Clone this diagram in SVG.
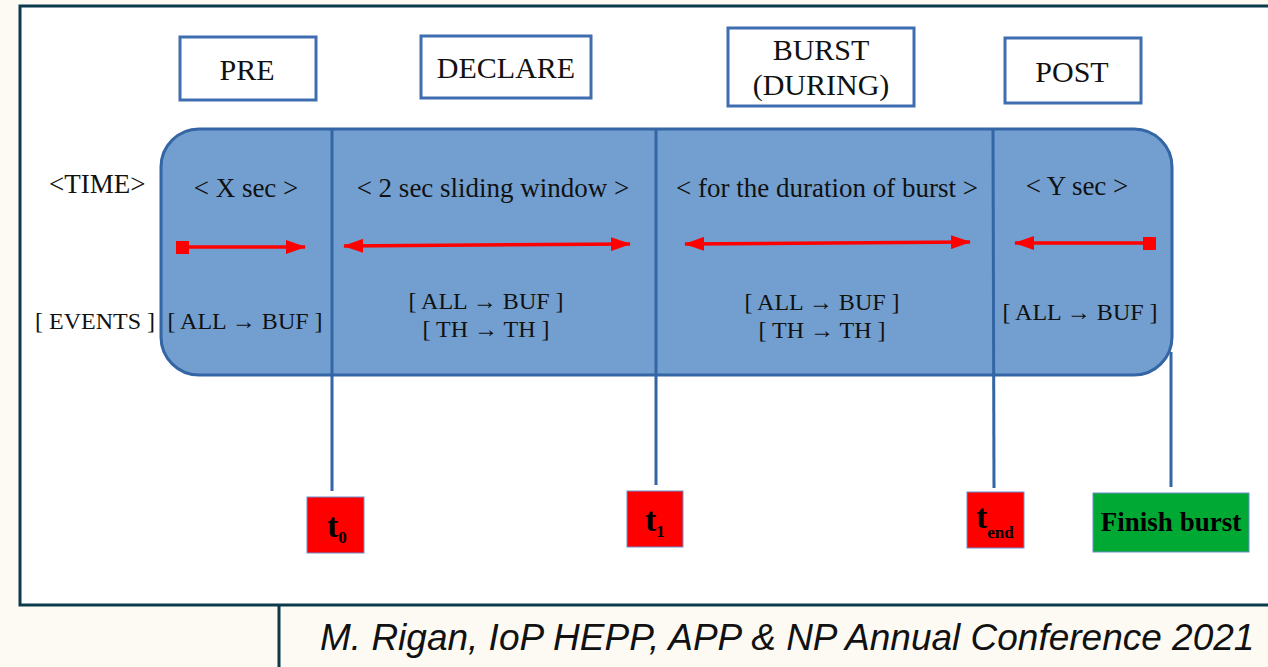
<svg xmlns="http://www.w3.org/2000/svg" width="1268" height="667" viewBox="0 0 1268 667">
<defs>
<style>
.frame{fill:none;stroke:#0b3a4a;stroke-width:3}
.hdr{fill:#ffffff;stroke:#3e6db0;stroke-width:3}
.serif{font-family:"Liberation Serif","DejaVu Serif",serif;fill:#111}
.lbl{font-size:30px;text-anchor:middle}
.sm{font-size:27px}
.ev{font-size:24px}
.div{stroke:#3465a4;stroke-width:3;fill:none}
.arr{stroke:#ff0000;stroke-width:3.5;fill:none}
.tick{fill:#ff0000;stroke:#6a8fd0;stroke-width:1}
.tb{font-family:"Liberation Serif","DejaVu Serif",serif;font-weight:bold;fill:#000}
</style>
<marker id="ah" viewBox="0 0 20 14" refX="19" refY="7" markerUnits="userSpaceOnUse" markerWidth="20" markerHeight="14" orient="auto-start-reverse">
<path d="M0,0 L20,7 L0,14 Z" fill="#ff0000"/>
</marker>
</defs>
<rect x="0" y="0" width="1268" height="667" fill="#fdfaf4"/>
<rect x="20" y="6" width="1260" height="599" fill="#ffffff"/>
<path class="frame" d="M1268,6 H20 V605 H1268"/>
<line class="frame" x1="279" y1="605" x2="279" y2="667"/>
<text x="320" y="650" font-family="'Liberation Sans',Arial,sans-serif" font-style="italic" font-size="37" fill="#111">M. Rigan, IoP HEPP, APP &amp; NP Annual Conference 2021</text>

<g id="pre"><rect class="hdr" x="180" y="37" width="136" height="63"/><text class="serif lbl" x="247" y="80">PRE</text></g>
<g id="declare"><rect class="hdr" x="421" y="36" width="170" height="62"/><text class="serif lbl" x="506" y="78">DECLARE</text></g>
<g id="burst"><rect class="hdr" x="728" y="28" width="186" height="78"/><text class="serif lbl" x="821" y="60">BURST</text><text class="serif lbl" x="821" y="95">(DURING)</text></g>
<g id="post"><rect class="hdr" x="1005" y="38" width="136" height="65"/><text class="serif lbl" x="1072" y="82">POST</text></g>

<g id="timeline">
<rect x="161" y="129" width="1011" height="246" rx="38" ry="38" fill="#729fcf" stroke="#3465a4" stroke-width="3"/>
<text class="serif sm" x="49" y="193" font-size="26">&lt;TIME&gt;</text>
<text class="serif sm" x="246" y="197" text-anchor="middle">&lt; X sec &gt;</text>
<text class="serif sm" x="493" y="197" text-anchor="middle">&lt; 2 sec sliding window &gt;</text>
<text class="serif sm" x="827" y="197" text-anchor="middle">&lt; for the duration of burst &gt;</text>
<text class="serif sm" x="1077" y="195" text-anchor="middle">&lt; Y sec &gt;</text>
<text class="serif ev" x="35" y="329">[ EVENTS ]</text>
<text class="serif ev" x="245" y="329" text-anchor="middle">[ ALL → BUF ]</text>
<text class="serif ev" x="486" y="309" text-anchor="middle">[ ALL → BUF ]</text>
<text class="serif ev" x="486" y="337" text-anchor="middle">[ TH → TH ]</text>
<text class="serif ev" x="822" y="310" text-anchor="middle">[ ALL → BUF ]</text>
<text class="serif ev" x="822" y="338" text-anchor="middle">[ TH → TH ]</text>
<text class="serif ev" x="1080" y="320" text-anchor="middle">[ ALL → BUF ]</text>
</g>

<g id="connectors">
<line class="div" x1="332" y1="129" x2="332" y2="491"/>
<line class="div" x1="656" y1="129" x2="656" y2="485"/>
<line class="div" x1="993" y1="129" x2="994" y2="488"/>
<line class="div" x1="1171" y1="352" x2="1171" y2="487"/>
<rect x="176" y="241" width="13" height="13" fill="#ff0000"/>
<line class="arr" x1="189" y1="247" x2="305" y2="247" marker-end="url(#ah)"/>
<line class="arr" x1="344" y1="246" x2="630" y2="244" marker-start="url(#ah)" marker-end="url(#ah)"/>
<line class="arr" x1="685" y1="244" x2="970" y2="242" marker-start="url(#ah)" marker-end="url(#ah)"/>
<line class="arr" x1="1015" y1="243" x2="1145" y2="243" marker-start="url(#ah)"/>
<rect x="1143" y="237" width="13" height="13" fill="#ff0000"/>
</g>

<g id="t0"><rect class="tick" x="307" y="497" width="57" height="56"/><text class="tb" x="327" y="537" font-size="34">t<tspan font-size="17" dy="6">0</tspan></text></g>
<g id="t1"><rect class="tick" x="627" y="491" width="56" height="56"/><text class="tb" x="645" y="531" font-size="34">t<tspan font-size="17" dy="6">1</tspan></text></g>
<g id="tend"><rect class="tick" x="967" y="492" width="57" height="56"/><text class="tb" x="976" y="528" font-size="34">t<tspan font-size="17" dy="10">end</tspan></text></g>
<g id="finish"><rect x="1093" y="493" width="156" height="59" fill="#00a933" stroke="#6a8fd0" stroke-width="1"/><text class="tb" x="1171" y="531" font-size="27" text-anchor="middle">Finish burst</text></g>
</svg>
